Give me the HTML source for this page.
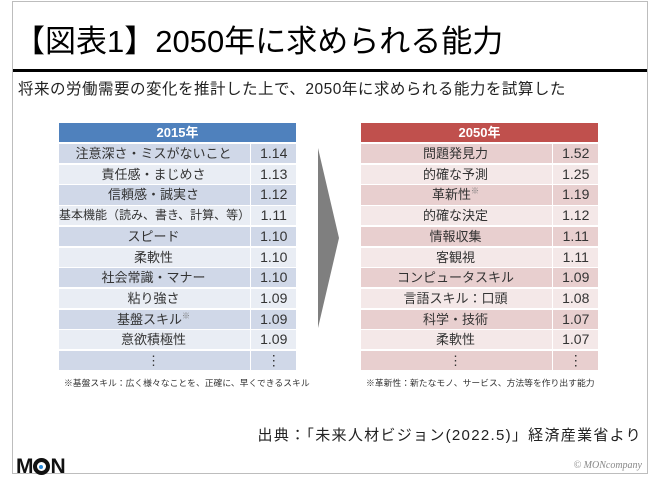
<!DOCTYPE html>
<html><head><meta charset="utf-8"><style>
body{margin:0;width:650px;height:480px;background:#fff;position:relative;overflow:hidden;font-family:"Liberation Sans","Noto Sans CJK JP",sans-serif;}
.frame{position:absolute;left:12px;top:1px;width:634px;height:471px;border:1px solid #bdbdbd;}
.title{position:absolute;left:14px;top:16px;font-size:31px;color:#000;white-space:nowrap;}
.rule{position:absolute;left:13px;top:69px;width:634px;height:3px;background:#000;}
.sub{position:absolute;left:18px;top:77px;font-size:15.5px;color:#222;white-space:nowrap;letter-spacing:0.5px;}
.tbl{position:absolute;width:237px;}
.hd{position:absolute;left:0;top:0;width:237px;height:19px;color:#fff;font-size:13px;font-weight:bold;text-align:center;line-height:19px;}
.rw{position:absolute;left:0;width:237px;height:19.2px;font-size:13px;color:#333;line-height:19px;}
.nm{position:absolute;left:0;top:0;width:189px;text-align:center;white-space:nowrap;}
.vl{position:absolute;left:190.5px;top:0;width:46.5px;height:19.2px;border-left:1.5px solid #fff;text-align:center;font-size:14px;}
.note{position:absolute;font-size:8.8px;color:#333;white-space:nowrap;top:376px;}
.src{position:absolute;right:8px;top:424px;font-size:15px;color:#222;white-space:nowrap;letter-spacing:1.3px;}
.logo{position:absolute;left:16px;top:455px;font-size:21px;font-weight:900;letter-spacing:-2px;color:#111;}
.copy{position:absolute;right:8px;top:460px;font-family:"Liberation Serif",serif;font-style:italic;font-size:10px;color:#888;}
sup{font-size:8px;color:#777;line-height:0;}
</style></head><body>
<div class="frame"></div>
<div class="title">【図表1】2050年に求められる能力</div>
<div class="rule"></div>
<div class="sub">将来の労働需要の変化を推計した上で、2050年に求められる能力を試算した</div>

<div id="t1" class="tbl" style="left:59px;top:123px;">
<div class="hd" style="background:#4f81bd">2015年</div>
</div>
<div class="note" style="left:64px;">※基盤スキル：広く様々なことを、正確に、早くできるスキル</div>

<svg style="position:absolute;left:0;top:0" width="650" height="480"><polygon points="318,148 339,238 318,328" fill="#7f7f7f"/></svg>

<div id="t2" class="tbl" style="left:361px;top:123px;">
<div class="hd" style="background:#c0504d">2050年</div>
</div>
<div class="note" style="left:366px;">※革新性：新たなモノ、サービス、方法等を作り出す能力</div>

<div class="src">出典：「未来人材ビジョン(2022.5)」経済産業省より</div>
<div class="logo">M<span style="display:inline-block;width:17px;height:17px;border:4px solid #111;border-radius:50%;box-sizing:border-box;vertical-align:-2px;position:relative;margin:0 1px;"><span style="position:absolute;left:2.5px;top:2.5px;width:4px;height:4px;border-radius:50%;background:#2a8ad8;"></span></span>N</div>
<div class="copy">© MONcompany</div>

<script>
const skills2015=["注意深さ・ミスがないこと","責任感・まじめさ","信頼感・誠実さ","基本機能（読み、書き、計算、等）","スピード","柔軟性","社会常識・マナー","粘り強さ","基盤スキル※","意欲積極性","⋮"];
const values2015=["1.14","1.13","1.12","1.11","1.10","1.10","1.10","1.09","1.09","1.09","⋮"];
const skills2050=["問題発見力","的確な予測","革新性※","的確な決定","情報収集","客観視","コンピュータスキル","言語スキル：口頭","科学・技術","柔軟性","⋮"];
const values2050=["1.52","1.25","1.19","1.12","1.11","1.11","1.09","1.08","1.07","1.07","⋮"];
function fill(id,names,vals,c1,c2){
  const t=document.getElementById(id);
  names.forEach((n,i)=>{
    const r=document.createElement('div');
    
    
    r.className='rw';
    r.style.top=(21+i*20.7)+'px';
    r.style.background=i%2?c2:c1;
    const a=document.createElement('div');
    
    
    a.className='nm';
    if(n.endsWith('※')){a.innerHTML=n.slice(0,-1)+'<sup>※</sup>';}else a.textContent=n;
    if(n.length>12)a.style.fontSize='12px';
    const b=document.createElement('div');
    b.className='vl';
    
    
    b.textContent=vals[i];
    r.appendChild(a);r.appendChild(b);t.appendChild(r);
  });
}
fill('t1',skills2015,values2015,'#d0d8e8','#e9edf4');
fill('t2',skills2050,values2050,'#e8cfcf','#f4e8e8');
</script>
</body></html>
